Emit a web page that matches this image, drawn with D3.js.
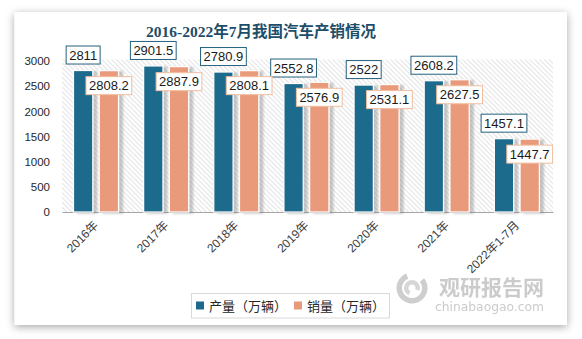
<!DOCTYPE html>
<html>
<head>
<meta charset="utf-8">
<script src="https://cdn.jsdelivr.net/npm/d3@7/dist/d3.min.js"></script>
<style>
  html, body { margin: 0; padding: 0; background: #ffffff; }
  svg { display: block; }
</style>
</head>
<body>
<svg id="chart" width="582" height="339"></svg>
<script>
// Vehicle production and sales, 2016 – July 2022 (10k units)
const categories = ["2016年", "2017年", "2018年", "2019年", "2020年", "2021年", "2022年1-7月"];
const production = [2811, 2901.5, 2780.9, 2552.8, 2522, 2608.2, 1457.1];
const sales = [2808.2, 2887.9, 2808.1, 2576.9, 2531.1, 2627.5, 1447.7];
const seriesNames = ["产量（万辆）", "销量（万辆）"];
const yTicks = [0, 500, 1000, 1500, 2000, 2500, 3000];
const titleText = "2016-2022年7月我国汽车产销情况";

const colors = ["#1f6a8c", "#e99a7a"];
const labelBorders = ["#25617f", "#f1bd9e"];

const svg = d3.select("#chart");
const defs = svg.append("defs");

// card shadow
const cardShadow = defs.append("filter").attr("id", "cardShadow")
  .attr("x", "-10%").attr("y", "-10%").attr("width", "120%").attr("height", "120%");
cardShadow.append("feDropShadow").attr("dx", 0).attr("dy", 2)
  .attr("stdDeviation", 4).attr("flood-color", "#000").attr("flood-opacity", 0.35);

// bar shadow
const barShadow = defs.append("filter").attr("id", "barShadow")
  .attr("x", "-30%").attr("y", "-10%").attr("width", "160%").attr("height", "120%");
barShadow.append("feDropShadow").attr("dx", 4).attr("dy", 1)
  .attr("stdDeviation", 1).attr("flood-color", "#777").attr("flood-opacity", 0.4);

// diagonal hatch for plot background
const hatch = defs.append("pattern").attr("id", "hatch")
  .attr("patternUnits", "userSpaceOnUse").attr("width", 3.4).attr("height", 3.4)
  .attr("patternTransform", "rotate(45)");
hatch.append("rect").attr("width", 3.4).attr("height", 3.4).attr("fill", "#ffffff");
hatch.append("line").attr("x1", 0).attr("y1", 0.6).attr("x2", 3.4).attr("y2", 0.6)
  .attr("stroke", "#dedede").attr("stroke-width", 0.9);

// card
svg.append("rect").attr("x", 14.5).attr("y", 12).attr("width", 552.5).attr("height", 313)
  .attr("fill", "#ffffff").attr("filter", "url(#cardShadow)");

// title
svg.append("text").attr("x", 261).attr("y", 37).attr("text-anchor", "middle")
  .attr("font-family", "'Liberation Serif', 'Noto Sans CJK SC', serif")
  .attr("font-weight", "bold").attr("font-size", 15.5).attr("fill", "#1d4e69")
  .text(titleText);

// scales
const plotLeft = 62, plotRight = 553, plotBottom = 212;
const x = d3.scaleBand().domain(categories).range([plotLeft, plotRight]);
const xs = d3.scaleBand().domain([0, 1]).range([11.5, 56.5]).paddingInner(0.25);
const y = d3.scaleLinear().domain([0, 3000]).range([plotBottom, 61]);

// plot background
svg.append("rect").attr("x", plotLeft).attr("y", 59.5)
  .attr("width", plotRight - plotLeft).attr("height", plotBottom - 59.5)
  .attr("fill", "url(#hatch)");

// y axis labels
const yAxis = d3.axisLeft(y).tickValues(yTicks).tickFormat(d3.format("d"))
  .tickSize(0).tickPadding(0);
const yG = svg.append("g").attr("transform", "translate(50,0)").call(yAxis);
yG.select(".domain").remove();
yG.selectAll("text").attr("font-family", "'Liberation Sans', Arial, sans-serif")
  .attr("font-size", 11.5).attr("fill", "#262626");

// x axis
const xAxis = d3.axisBottom(x).tickSize(0).tickPadding(0);
const xG = svg.append("g").attr("transform", `translate(0,${plotBottom})`).call(xAxis);
xG.select(".domain").attr("stroke", "#a6a6a6").attr("stroke-width", 1);
xG.selectAll("text")
  .attr("font-family", "'Liberation Sans', 'Noto Sans CJK SC', sans-serif")
  .attr("font-size", 12).attr("fill", "#404040")
  .attr("text-anchor", "end").attr("dy", 0)
  .attr("transform", "translate(2,14) rotate(-45)");

// bars
const series = [production, sales];
const barsG = svg.append("g");
series.forEach((vals, si) => {
  barsG.selectAll(null).data(vals).enter().append("rect")
    .attr("x", (d, i) => x(categories[i]) + xs(si))
    .attr("y", d => y(d))
    .attr("width", xs.bandwidth())
    .attr("height", d => plotBottom - y(d))
    .attr("fill", colors[si])
    .attr("stroke", "#ffffff").attr("stroke-width", 1.2)
    .attr("filter", "url(#barShadow)");
});

// value labels
const labelsG = svg.append("g");
series.forEach((vals, si) => {
  vals.forEach((v, i) => {
    const cx = x(categories[i]) + xs(si) + xs.bandwidth() / 2;
    const cy = si === 0 ? y(v) - 15.5 : y(v) + 15;
    const g = labelsG.append("g");
    const box = g.append("rect");
    const t = g.append("text").attr("x", cx).attr("y", cy + 4.6)
      .attr("text-anchor", "middle")
      .attr("font-family", "'Liberation Sans', Arial, sans-serif")
      .attr("font-size", 13).attr("fill", "#1a1a1a").text(v);
    const w = t.node().getComputedTextLength() + 6;
    box.attr("x", cx - w / 2).attr("y", cy - 9).attr("width", w).attr("height", 18)
      .attr("fill", "#ffffff").attr("stroke", labelBorders[si]).attr("stroke-width", 1);
  });
});

// legend
const legend = svg.append("g");
legend.append("rect").attr("x", 191.5).attr("y", 293.5).attr("width", 198).attr("height", 24.5)
  .attr("fill", "#ffffff").attr("stroke", "#d9d9d9").attr("stroke-width", 1);
const legendX = [196, 294];
seriesNames.forEach((name, si) => {
  legend.append("rect").attr("x", legendX[si]).attr("y", 301.5).attr("width", 8).attr("height", 8)
    .attr("fill", colors[si]);
  legend.append("text").attr("x", legendX[si] + 13).attr("y", 310.5)
    .attr("font-family", "'Noto Sans CJK SC', sans-serif")
    .attr("font-size", 13).attr("fill", "#262626").text(name);
});

// watermark
const wm = svg.append("g").attr("opacity", 0.9);
const arc = d3.arc();
wm.append("path").attr("transform", "translate(412,288)")
  .attr("d", arc({ innerRadius: 10, outerRadius: 15.5, startAngle: 0.9, endAngle: 5.9 }))
  .attr("fill", "#c9c9c9");
wm.append("path").attr("transform", "translate(412,288)")
  .attr("d", arc({ innerRadius: 3.5, outerRadius: 8, startAngle: 3.6, endAngle: 8.2 }))
  .attr("fill", "#d2d2d2");
wm.append("text").attr("x", 439).attr("y", 295)
  .attr("font-family", "'Noto Sans CJK SC', sans-serif").attr("font-weight", "bold")
  .attr("font-size", 21).attr("fill", "#c6c6c6")
  .attr("textLength", 105).attr("lengthAdjust", "spacingAndGlyphs").text("观研报告网");
wm.append("text").attr("x", 435).attr("y", 311)
  .attr("font-family", "'DejaVu Sans', sans-serif")
  .attr("font-size", 12).attr("fill", "#c6c6c6")
  .attr("textLength", 109).attr("lengthAdjust", "spacingAndGlyphs").text("chinabaogao.com");
</script>
</body>
</html>
